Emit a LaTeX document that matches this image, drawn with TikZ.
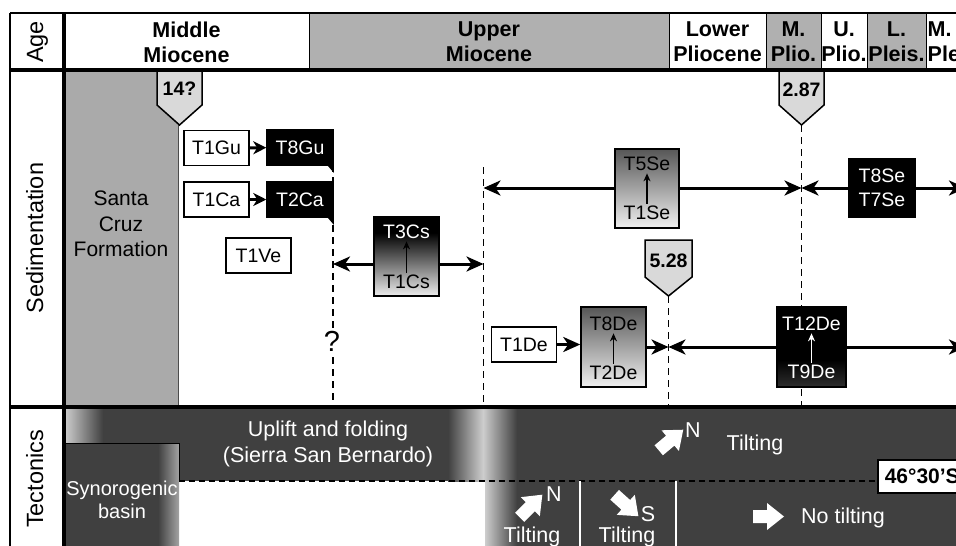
\documentclass[tikz,border=0pt]{standalone}
\usepackage{fontspec}
\setmainfont{Liberation Sans}
\usetikzlibrary{arrows.meta}
\definecolor{hgray}{HTML}{B0B0B0}
\definecolor{scgray}{HTML}{AAAAAA}
\definecolor{taggray}{HTML}{D9D9D9}
\definecolor{tdark}{HTML}{404040}
\definecolor{tlight}{HTML}{CDCDCD}
\pgfdeclareverticalshading{csshade}{100bp}{color(0bp)=(black!7); color(25bp)=(black!7); color(65bp)=(black); color(100bp)=(black)}
\pgfdeclareverticalshading{seshade}{100bp}{color(0bp)=(black!6); color(25bp)=(black!6); color(75bp)=(black!66); color(100bp)=(black!66)}
\pgfdeclareverticalshading{deshade}{100bp}{color(0bp)=(black!82); color(25bp)=(black!82); color(42bp)=(black); color(100bp)=(black)}
\newcommand\fatarr[3]{\fill[white,shift={(#1)},rotate=#2] (-#3/2,-6.5) -- (#3/2-17,-6.5) -- (#3/2-17,-13.5) -- (#3/2,0) -- (#3/2-17,13.5) -- (#3/2-17,6.5) -- (-#3/2,6.5) -- cycle;}
\tikzset{
  sidelbl/.style={rotate=90, anchor=base, font=\fontsize{23.5}{27}\selectfont, inner sep=0},
  hdr/.style={font=\bfseries\fontsize{21.5}{25}\selectfont, align=center, inner sep=0},
  unit/.style={draw, line width=1.5, minimum width=65, minimum height=35, inner sep=0, font=\fontsize{19.5}{22}\selectfont},
  wunit/.style={unit, fill=white},
  bunit/.style={unit, fill=black, text=white},
  tall/.style={unit, minimum height=80},
  lbl/.style={inner sep=2, font=\fontsize{19.5}{22}\selectfont},
  tagtxt/.style={font=\bfseries\fontsize{19.5}{22}\selectfont, inner sep=0},
  tagshape/.style={fill=taggray, draw=black, line width=1.5, line join=miter},
  dline/.style={line width=1.6, dash pattern=on 7pt off 5pt},
  tip/.style={-{Stealth[length=17pt,width=15pt,inset=5pt]}},
  conn/.style={line width=3, tip},
  inarr/.style={line width=1.6, -{Stealth[length=8pt,width=7pt]}},
  ttext/.style={text=white, font=\fontsize{21.5}{26}\selectfont, inner sep=0, anchor=base},
}
\begin{document}
\begin{tikzpicture}[x=1pt,y=-1pt]
\useasboundingbox (0,0) rectangle (956,546);
\clip (0,0) rectangle (956,546);
\fill[white] (0,0) rectangle (956,546);
% header
\fill[hgray] (309,13) rectangle (669,70);
\fill[hgray] (766,13) rectangle (821,70);
\fill[hgray] (867,13) rectangle (926,70);
\foreach \xx in {309,669,766,821,867,926} \draw[line width=1] (\xx,13) -- (\xx,70);
\node[hdr] (mm) at (186.5,42) {Middle\\Miocene};
\node[hdr] (um) at (489,42) {Upper\\Miocene};
\node[hdr] (lp) at (717.5,42) {Lower\\Pliocene};
\node[hdr] (mp) at (793.5,42) {M.\\Plio.};
\node[hdr] (upl) at (844,42) {U.\\Plio.};
\node[hdr] (lpl) at (896.5,42) {L.\\Pleis.};
\node[hdr, align=left, anchor=west] (mpl) at (927.5,42) {M.\\Pleis.};
% side labels
\node[sidelbl] (age) at (43,42) {Age};
\node[sidelbl] (sed) at (43,238) {Sedimentation};
\node[sidelbl] (tec) at (43,479) {Tectonics};
% Santa Cruz
\fill[scgray] (64,70) rectangle (178.5,407);
\draw[line width=1, black!70] (178.5,70) -- (178.5,407);
\node[font=\fontsize{21}{25.5}\selectfont, align=center, inner sep=0] (scf) at (121,224) {Santa\\Cruz\\Formation};
% dashed time lines
\coordinate (a1) at (333,165); \coordinate (a2) at (333,407);
\coordinate (b1) at (483.5,167); \coordinate (b2) at (483.5,407);
\coordinate (c1) at (668.5,296); \coordinate (c2) at (668.5,407);
\coordinate (e1) at (801.5,125); \coordinate (e2) at (801.5,407);
\draw[dline] (a1) -- (a2);
\draw[dline] (b1) -- (b2);
\draw[dline] (c1) -- (c2);
\draw[dline] (e1) -- (e2);
\node[font=\fontsize{29}{31}\selectfont, inner sep=2, fill=white] (q) at (332,341) {?};
% tags
\draw[tagshape] (157,70) -- (202,70) -- (202,105) -- (179.5,125) -- (157,105) -- cycle;
\node[tagtxt] (tag14) at (179.5,89) {14?};
\draw[tagshape] (779,70) -- (824,70) -- (824,105) -- (801.5,125) -- (779,105) -- cycle;
\node[tagtxt] (tag287) at (801.5,90) {2.87};
\draw[tagshape] (645,240) -- (692,240) -- (692,277) -- (668.5,296) -- (645,277) -- cycle;
\node[tagtxt] (tag528) at (668.5,260.5) {5.28};
% left units
\node[wunit] (t1gu) at (216.5,148) {T1Gu};
\node[bunit, minimum width=66] (t8gu) at (300,147.5) {T8Gu};
\fill ([xshift=-6pt]t8gu.south east) -- (t8gu.south east) -- ([yshift=-7pt]t8gu.south east) -- cycle;
\node[wunit] (t1ca) at (216.5,199.5) {T1Ca};
\node[bunit, minimum width=66] (t2ca) at (300,199.5) {T2Ca};
\fill ([xshift=-6pt]t2ca.south east) -- (t2ca.south east) -- ([yshift=-7pt]t2ca.south east) -- cycle;
\node[wunit] (t1ve) at (258.5,255.5) {T1Ve};
\draw[conn, -{Stealth[length=13pt,width=13pt,inset=4pt]}] (t1gu) -- (t8gu);
\draw[conn, -{Stealth[length=13pt,width=13pt,inset=4pt]}] (t1ca) -- (t2ca);
% Cs
\coordinate (cs1) at (333,264); \coordinate (cs2) at (483.5,264);
\node[tall, shade, shading=csshade, minimum height=79] (t3cs) at (406.5,256.5) {};
\node[lbl, text=white] (t3csA) at ([yshift=-16pt]t3cs.north) {T3Cs};
\node[lbl] (t1csB) at ([yshift=15pt]t3cs.south) {T1Cs};
\draw[inarr] (t1csB.north) -- (t3csA.south);
\draw[conn] (t3cs.west |- cs1) -- (cs1);
\draw[conn] (t3cs.east |- cs2) -- (cs2);
% Se
\coordinate (se1) at (483.5,188); \coordinate (se2) at (801.5,188); \coordinate (se3) at (966,188);
\node[tall, shade, shading=seshade, minimum width=64, minimum height=79] (t5se) at (647,188.5) {};
\node[lbl] (t5seA) at ([yshift=-16pt]t5se.north) {T5Se};
\node[lbl] (t1seB) at ([yshift=16pt]t5se.south) {T1Se};
\draw[inarr] (t1seB.north) -- (t5seA.south);
\draw[conn] (t5se.west |- se1) -- (se1);
\draw[conn] (t5se.east |- se2) -- (se2);
\node[bunit, minimum width=66, minimum height=58, align=center, font=\fontsize{19.5}{24}\selectfont] (t8se) at (882,188) {T8Se\\T7Se};
\draw[conn] (t8se.west |- se2) -- (se2);
\draw[conn] (t8se.east |- se3) -- (se3);
% De
\coordinate (de1) at (668.5,347); \coordinate (de2) at (966,347);
\node[wunit] (t1de) at (524,344.5) {T1De};
\node[tall, shade, shading=seshade] (t8de) at (613.5,347) {};
\node[lbl] (t8deA) at ([yshift=-18pt]t8de.north) {T8De};
\node[lbl] (t2deB) at ([yshift=15pt]t8de.south) {T2De};
\draw[inarr] (t2deB.north) -- (t8deA.south);
\draw[conn] (t1de.east) -- (t8de.west |- t1de.east);
\draw[conn] (t8de.east |- de1) -- (de1);
\node[tall, shade, shading=deshade, minimum width=69] (t12de) at (811.5,347) {};
\node[lbl, text=white] (t12deA) at ([yshift=-18pt]t12de.north) {T12De};
\node[lbl, text=white] (t9deB) at ([yshift=16pt]t12de.south) {T9De};
\draw[inarr, white] (t9deB.north) -- (t12deA.south);
\draw[conn] (t12de.west |- de1) -- (de1);
\draw[conn] (t12de.east |- de2) -- (de2);
% tectonics
\fill[tdark] (64,407) rectangle (956,443);
\fill[tdark] (179,443) rectangle (956,481);
\fill[tdark] (64,443) rectangle (179,546);
\fill[tdark] (485,481) rectangle (956,546);
\shade[left color=tlight, right color=tdark] (65,407) rectangle (103,443);
\shade[left color=tdark, right color=tlight] (448,407) rectangle (483,481);
\shade[left color=tlight, right color=tdark] (483,407) rectangle (517,481);
\shade[left color=tlight, right color=tdark] (485,481) rectangle (517,546);
\shade[left color=tdark, right color=tlight!70!tdark] (158,443) rectangle (179,546);
\draw[line width=1] (64,443) -- (179,443) -- (179,481);
\draw[line width=1.2, dash pattern=on 6pt off 4pt] (179,481) -- (877,481);
\draw[white, line width=1.5] (580,481) -- (580,546);
\draw[white, line width=1.5] (676,481) -- (676,546);
\node[ttext] (up1) at (328,436) {Uplift and folding};
\node[ttext] (up2) at (328,462) {(Sierra San Bernardo)};
\node[ttext, font=\fontsize{20}{24}\selectfont] (syn1) at (122,495) {Synorogenic};
\node[ttext, font=\fontsize{20}{24}\selectfont] (syn2) at (122,518) {basin};
\fatarr{671,440}{40}{32}
\node[ttext] (nA) at (693,437) {N};
\node[ttext] (tiltA) at (755,450) {Tilting};
\fatarr{531,506}{45}{32}
\node[ttext] (nB) at (554,501) {N};
\node[ttext] (tiltB) at (532,542) {Tilting};
\fatarr{626.5,505.5}{-42}{32}
\node[ttext] (sB) at (648,521) {S};
\node[ttext] (tiltC) at (627,542) {Tilting};
\fatarr{768.5,516.5}{0}{31}
\node[ttext] (notilt) at (843,523) {No tilting};
\node[draw, fill=white, line width=1.5, anchor=west, minimum height=33, inner xsep=7, inner ysep=0, font=\bfseries\fontsize{21}{24}\selectfont] (lat) at (877,476.5) {46°30’S};
% frame
\draw[line width=2.7] (10,13) -- (956,13);
\draw[line width=2.7] (10,13) -- (10,546);
\draw[line width=4] (10,70) -- (956,70);
\draw[line width=4] (10,407) -- (956,407);
\draw[line width=4] (64,13) -- (64,546);
\end{tikzpicture}
\end{document}
